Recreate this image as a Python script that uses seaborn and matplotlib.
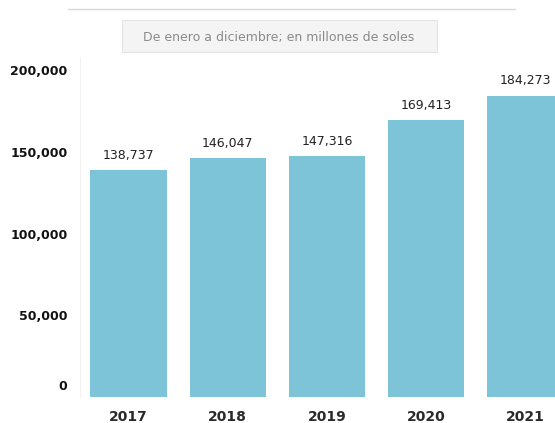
import matplotlib
matplotlib.use("Agg")
import matplotlib.pyplot as plt
import matplotlib.transforms as mtransforms
from matplotlib.patches import Rectangle
import seaborn as sns
import pandas as pd

years = ["2017", "2018", "2019", "2020", "2021"]
values = [138737, 146047, 147316, 169413, 184273]
yticks = [0, 50000, 100000, 150000, 200000]
subtitle = "De enero a diciembre; en millones de soles"

sns.set_theme(style="white")
plt.rcParams['font.family'] = ['DejaVu Sans']

df = pd.DataFrame({"year": years, "value": values})

fig = plt.figure(figsize=(5.55, 4.23), dpi=100)
ax = fig.add_axes([80/555, 26/423, 1 - 80/555, 340/423])

sns.barplot(data=df, x="year", y="value", color="#7EC4D8", saturation=1,
            width=0.77, linewidth=0, edgecolor="none", ax=ax)

ax.set_xlim(-0.49, 4.3)
ax.set_ylim(0, 208000)
ax.set_yticks(yticks)
ax.set_yticklabels([f"{v:,}" for v in yticks], fontsize=9, fontweight="bold", color="#111111")
ax.tick_params(axis="y", length=0, pad=9)
ax.tick_params(axis="x", length=0, pad=9, labelsize=10, labelcolor="#2a2a2a")
for lbl in ax.get_xticklabels():
    lbl.set_fontweight("bold")
# the zero label sits a little above the baseline in the reference
zero_lbl = ax.get_yticklabels()[0]
zero_lbl.set_transform(zero_lbl.get_transform() +
                       mtransforms.ScaledTranslation(0, 12/100, fig.dpi_scale_trans))
ax.set_xlabel("")
ax.set_ylabel("")
for s in ["top", "right", "bottom"]:
    ax.spines[s].set_visible(False)
ax.spines["left"].set_color("#f2f2f2")
ax.spines["left"].set_linewidth(0.8)

for i, v in enumerate(values):
    ax.annotate(f"{v:,}", (i, v), xytext=(0, 6), textcoords="offset points",
                ha="center", va="bottom", fontsize=9, color="#222222")

# top rule
fig.add_artist(plt.Line2D([68/555, 515/555], [1 - 9/423, 1 - 9/423],
                          color="#d8d8d8", linewidth=1.0, transform=fig.transFigure))
# subtitle box
fig.add_artist(Rectangle((122/555, 1 - 52/423), 315/555, 32/423,
                         transform=fig.transFigure, facecolor="#f4f4f4",
                         edgecolor="#e4e4e4", linewidth=0.8))
fig.text(279/555, 1 - 37/423, subtitle, ha="center", va="center", fontsize=9,
         color="#8a8a8a")

fig.savefig("out.png", dpi=100)
